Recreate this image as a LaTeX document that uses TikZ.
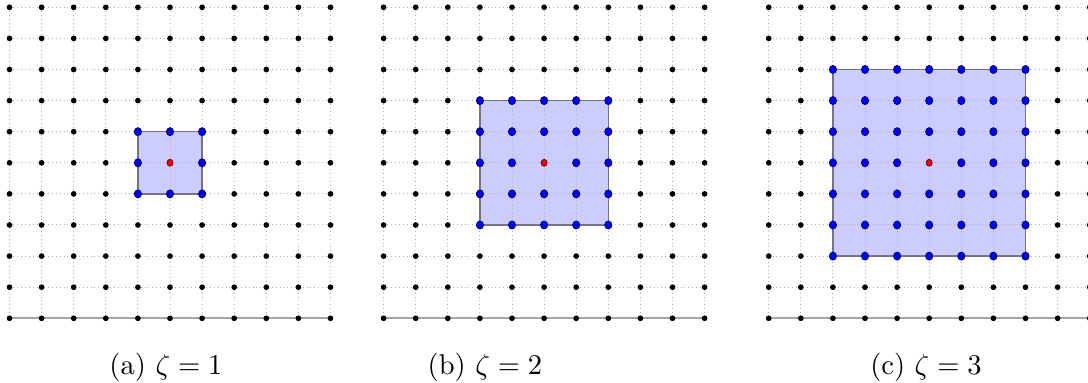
\documentclass[tikz,border=0pt]{standalone}
\usetikzlibrary{shapes.geometric}
\begin{document}
\begin{tikzpicture}[x=0.35pt,y=-0.35pt,
  gridline/.style={gray!60,line width=0.35pt,densely dotted},
  axisline/.style={gray!70,line width=0.75pt},
  boxfill/.style={fill=blue!20},
  boxborder/.style={draw={rgb,255:red,115;green,115;blue,135},line width=0.45pt},
  blackdot/.style={circle,fill=black,inner sep=0pt,minimum size=2.0pt},
  bluedot/.style={ellipse,fill=blue,draw=blue!50!black,line width=0.3pt,inner sep=0pt,minimum width=2.5pt,minimum height=2.8pt},
  reddot/.style={ellipse,fill=red,draw=red!50!black,line width=0.3pt,inner sep=0pt,minimum width=2.1pt,minimum height=2.4pt},
  caption/.style={anchor=base,inner sep=0pt,font=\fontsize{10}{12}\selectfont}]
\useasboundingbox (0,0) rectangle (1088,383);
\clip (0,0) rectangle (1088,383);
\def\dx{32.1}
\def\dy{31.1}
\def\yo{7.3}
\newcommand\drawpanel[3]{%
  % #1 name, #2 first column x, #3 zeta
  \fill[boxfill] ({#2+(5-#3)*\dx},{\yo+(5-#3)*\dy}) rectangle ({#2+(5+#3)*\dx},{\yo+(5+#3)*\dy});
  \foreach \k in {0,...,10} {
    \draw[gridline] ({#2+\k*\dx},{\yo}) -- ({#2+\k*\dx},{\yo+10*\dy});
    \draw[gridline] ({#2},{\yo+\k*\dy}) -- ({#2+10*\dx},{\yo+\k*\dy});
  }
  \draw[boxborder] ({#2+(5-#3)*\dx},{\yo+(5-#3)*\dy}) rectangle ({#2+(5+#3)*\dx},{\yo+(5+#3)*\dy});
  \coordinate (#1-axl) at ({#2},{\yo+10*\dy});
  \coordinate (#1-axr) at ({#2+10*\dx},{\yo+10*\dy});
  \draw[axisline] (#1-axl) -- (#1-axr);
  \foreach \i in {0,...,10} {
    \foreach \j in {0,...,10} {
      \pgfmathtruncatemacro\dist{max(abs(\i-5),abs(\j-5))}
      \ifnum\dist=0
        \node[reddot] (#1-\i-\j) at ({#2+\i*\dx},{\yo+\j*\dy}) {};
      \else\ifnum\dist>#3
        \node[blackdot] (#1-\i-\j) at ({#2+\i*\dx},{\yo+\j*\dy}) {};
      \else
        \node[bluedot] (#1-\i-\j) at ({#2+\i*\dx},{\yo+\j*\dy}) {};
      \fi\fi
    }
  }
}
\drawpanel{pa}{9.5}{1}
\drawpanel{pb}{383.6}{2}
\drawpanel{pc}{768.7}{3}
\node[caption] (capa) at (166,374) {(a) $\zeta=1$};
\node[caption] (capb) at (485,374) {(b) $\zeta=2$};
\node[caption] (capc) at (926,374) {(c) $\zeta=3$};
\end{tikzpicture}
\end{document}
